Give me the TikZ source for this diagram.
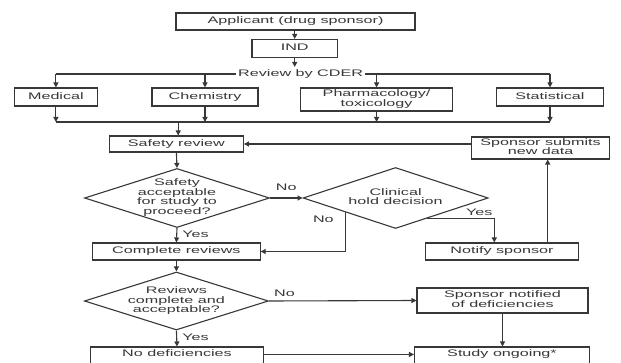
\documentclass[tikz,border=0pt]{standalone}
\usepackage{fontspec}
\usepackage{graphicx}
\setmainfont{Liberation Sans}
\usetikzlibrary{shapes.geometric,arrows.meta,calc}
\newcommand{\sx}[1]{\raisebox{-1.4pt}{\scalebox{1.70}[1]{\renewcommand{\arraystretch}{0.9}\begin{tabular}{@{}c@{}}#1\end{tabular}}}}
\definecolor{ln}{HTML}{383838}
\begin{document}
\begin{tikzpicture}[x=1pt,y=-1pt,
  every node/.style={font=\fontsize{9.5}{10.5}\selectfont, text=ln},
  box/.style={draw=ln, line width=1.1pt, inner sep=0pt, fill=white},
  dia/.style={diamond, draw=ln, line width=1.1pt, inner sep=0pt},
  arr/.style={-{Triangle[length=5pt,width=5pt]}, draw=ln, line width=1.1pt},
  ln/.style={draw=ln, line width=1.1pt},
  lbl/.style={inner sep=0pt}]
\clip (0,0) rectangle (621,363);
\fill[white] (0,0) rectangle (621,363);
% nodes
\node[box, minimum width=239pt, minimum height=17pt] (app) at (295.5,21.5) {\sx{Applicant (drug sponsor)}};
\node[box, minimum width=85.5pt, minimum height=18pt] (ind) at (294.7,48.5) {\sx{IND}};
\coordinate (cderline) at (300.6,74);
\node[box, minimum width=83pt, minimum height=18pt] (med) at (55.9,97) {\sx{Medical}};
\node[box, minimum width=106pt, minimum height=18pt] (chem) at (205,97) {\sx{Chemistry}};
\node[box, minimum width=152pt, minimum height=23pt] (pharm) at (376.6,99.5) {\sx{Pharmacology/\\toxicology}};
\node[box, minimum width=107pt, minimum height=18pt] (stat) at (550,97) {\sx{Statistical}};
\coordinate (join) at (178.2,122);
\node[box, minimum width=134pt, minimum height=16pt] (safety) at (176.4,144) {\sx{Safety review}};
\node[box, minimum width=138pt, minimum height=22pt] (sub) at (540.6,148) {\sx{Sponsor submits\\new data}};
\node[dia, minimum width=185pt, minimum height=59pt, label=center:{\sx{Safety\\acceptable\\for study to\\proceed?}}] (d1) at (177,198) {};
\node[dia, minimum width=185pt, minimum height=61pt, label=center:{\sx{Clinical\\hold decision}}] (d2) at (395.6,198) {};
\node[box, minimum width=167.5pt, minimum height=17pt] (complete) at (176.4,251.5) {\sx{Complete reviews}};
\node[box, minimum width=153pt, minimum height=17pt] (notify) at (502,251.5) {\sx{Notify sponsor}};
\node[dia, minimum width=184pt, minimum height=58pt, label=center:{\sx{Reviews\\complete and\\acceptable?}}] (d3) at (176.4,301) {};
\node[box, minimum width=171pt, minimum height=25pt] (snot) at (502.5,300.5) {\sx{Sponsor notified\\of deficiencies}};
\node[box, minimum width=173.5pt, minimum height=26pt, label={[anchor=center, yshift=-8pt]north:{\sx{No deficiencies}}}] (nodef) at (177,360) {};
\node[box, minimum width=175pt, minimum height=26pt, label={[anchor=center, yshift=-8pt]north:{\sx{Study ongoing*}}}] (study) at (502,360) {};
% review by CDER line
\draw[ln] (med.north |- cderline) -- (stat.north |- cderline);
\node[fill=white, inner sep=2pt] (cder) at (cderline) {\sx{Review by CDER}};
% connectors
\draw[arr] (app.south -| ind.north) -- (ind.north);
\draw[arr] (ind.south) -- (ind.south |- cder.north);
\foreach \n in {med,chem,pharm,stat}{
  \draw[arr] (\n.north |- cderline) -- (\n.north);
  \draw[arr] (\n.south) -- (\n.south |- join);
}
\draw[ln] (med.south |- join) -- (stat.south |- join);
\draw[arr] (join) -- (join |- safety.north);
\draw[arr] (sub.west |- safety.east) -- (safety.east);
\draw[arr] (safety.south) -- (d1.north);
\draw[arr] (d1.east) -- node[lbl, above=4pt] {\sx{No}} (d2.west);
\draw[arr] (d1.south) -- node[lbl, right=5pt] {\sx{Yes}} (complete.north);
\coordinate (d2no) at ($(d2.west)!0.46!(d2.south)$);
\draw[arr] (d2no) -- (d2no |- complete.east) -- (complete.east);
\node[lbl] (d2nolbl) at ($(d2no)+(-22,8)$) {\sx{No}};
\coordinate (d2yes) at ($(d2.south)!0.333!(d2.east)$);
\coordinate (yesturn) at ($(notify.north)+(-7.7,0)$);
\draw[arr] (d2yes) -- (d2yes -| yesturn) -- (yesturn);
\node[lbl] (d2yeslbl) at ($(d2yes -| yesturn)+(-15,-5.5)$) {\sx{Yes}};
\draw[arr] ([xshift=45.7pt]notify.north) -- ([xshift=45.7pt]notify.north |- sub.south);
\draw[arr] (complete.south) -- (d3.north);
\draw[arr] (d3.east) -- (snot.west);
\node[lbl] (d3nolbl) at ($(d3.east)+(15.5,-6)$) {\sx{No}};
\draw[arr] (snot.south) -- (snot.south |- study.north);
\draw[arr] (d3.south) -- node[lbl, right=5pt] {\sx{Yes}} (nodef.north);
\draw[arr] ([yshift=-8pt]nodef.north east) -- ([yshift=-8pt]nodef.north east -| study.west);
\end{tikzpicture}
\end{document}
